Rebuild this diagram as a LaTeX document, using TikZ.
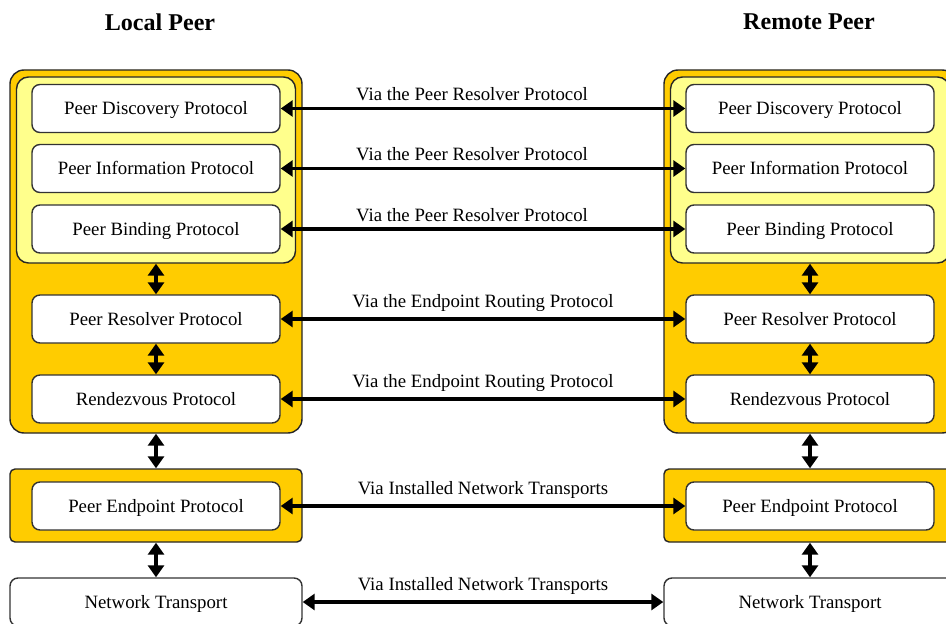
\documentclass[tikz,border=0pt]{standalone}
\usepackage{fontspec}
\setmainfont{Liberation Serif}
\usetikzlibrary{arrows.meta}
\definecolor{peerorange}{RGB}{255,204,0}
\definecolor{peeryellow}{RGB}{255,255,140}
\tikzstyle{protocol}=[draw=black!80,fill=white,rounded corners=0.16cm,line width=0.8pt,minimum width=4.96cm,minimum height=0.96cm,inner sep=0pt,text height=1.5ex,text depth=0pt,font=\fontsize{10.7}{13}\selectfont]
\tikzstyle{stack}=[draw=black!85,fill=peerorange,rounded corners=0.28cm,line width=0.8pt,minimum width=5.84cm,inner sep=0pt]
\tikzstyle{group}=[draw=black!85,fill=peeryellow,rounded corners=0.24cm,line width=0.8pt,minimum width=5.58cm,minimum height=3.72cm,inner sep=0pt]
\tikzstyle{link}=[<->,>={Triangle[length=0.24cm,width=0.32cm]},line width=2.1pt]
\tikzstyle{via}=[above,font=\fontsize{10.7}{13}\selectfont]
\tikzstyle{title}=[font=\bfseries\fontsize{13.7}{16}\selectfont]

\begin{document}
\begin{tikzpicture}
\useasboundingbox (0,0) rectangle (18.92,-12.48);

\node[title] (lt) at (3.2, -0.44)   {Local Peer};
\node[title] (rt) at (16.18, -0.44) {Remote Peer};

% local peer
\node[stack,minimum height=7.26cm] (ls) at (3.12, -5.03) {};
\node[group] (lg) at (3.12, -3.40) {};
\node[protocol] (ld) at (3.12, -2.17)  {Peer Discovery Protocol};
\node[protocol] (li) at (3.12, -3.37)  {Peer Information Protocol};
\node[protocol] (lb) at (3.12, -4.58)  {Peer Binding Protocol};
\node[protocol] (lr) at (3.12, -6.38)  {Peer Resolver Protocol};
\node[protocol] (lz) at (3.12, -7.98)  {Rendezvous Protocol};
\node[stack,minimum height=1.46cm,rounded corners=0.1cm] (le) at (3.12, -10.11) {};
\node[protocol] (lp) at (3.12, -10.12) {Peer Endpoint Protocol};
\node[protocol,minimum width=5.84cm] (ln) at (3.12, -12.04) {Network Transport};

% remote peer
\node[stack,minimum height=7.26cm] (rs) at (16.2, -5.03) {};
\node[group] (rg) at (16.2, -3.40) {};
\node[protocol] (rd) at (16.2, -2.17)  {Peer Discovery Protocol};
\node[protocol] (ri) at (16.2, -3.37)  {Peer Information Protocol};
\node[protocol] (rb) at (16.2, -4.58)  {Peer Binding Protocol};
\node[protocol] (rr) at (16.2, -6.38)  {Peer Resolver Protocol};
\node[protocol] (rz) at (16.2, -7.98)  {Rendezvous Protocol};
\node[stack,minimum height=1.46cm,rounded corners=0.1cm] (re) at (16.2, -10.11) {};
\node[protocol] (rp) at (16.2, -10.12) {Peer Endpoint Protocol};
\node[protocol,minimum width=5.84cm] (rn) at (16.2, -12.04) {Network Transport};

\draw[link] (lg.south) -- (lr.north);
\draw[link] (lr) -- (lz);
\draw[link] (ls.south) -- (le.north);
\draw[link] (le.south) -- (ln.north);

\draw[link] (rg.south) -- (rr.north);
\draw[link] (rr) -- (rz);
\draw[link] (rs.south) -- (re.north);
\draw[link] (re.south) -- (rn.north);

\draw[link] (ld) -- node[via,xshift=-0.22cm] {Via the Peer Resolver Protocol} (rd);
\draw[link] (li) -- node[via,xshift=-0.22cm] {Via the Peer Resolver Protocol} (ri);
\draw[link] (lb) -- node[via,xshift=-0.22cm] {Via the Peer Resolver Protocol} (rb);
\draw[link] (lr) -- node[via] {Via the Endpoint Routing Protocol} (rr);
\draw[link] (lz) -- node[via] {Via the Endpoint Routing Protocol} (rz);
\draw[link] (lp) -- node[via] {Via Installed Network Transports} (rp);
\draw[link] (ln) -- node[via] {Via Installed Network Transports} (rn);

\end{tikzpicture}
\end{document}
